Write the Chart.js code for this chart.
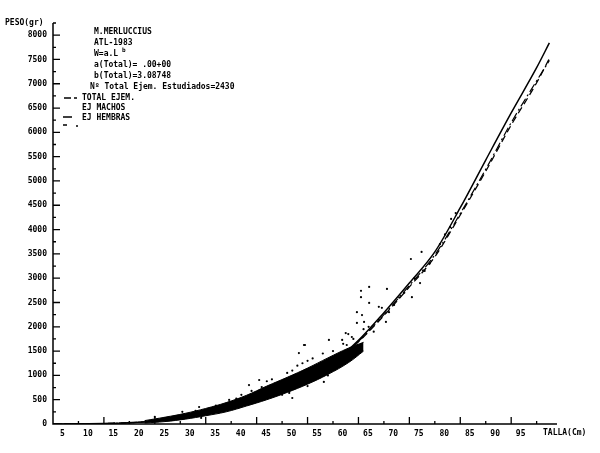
<!DOCTYPE html>
<html>
<head>
<meta charset="utf-8">
<script src="https://cdn.jsdelivr.net/npm/chart.js@4.4.0/dist/chart.umd.min.js"></script>
<style>
html, body { margin: 0; background: #fff; }
#wrap { width: 600px; height: 453px; }
</style>
</head>
<body>
<div id="wrap"><canvas id="grafico"></canvas></div>
<script>
// tallas (cm) y pesos (gr)
var tallas = [0, 10, 20, 30, 40, 45, 50, 55, 60, 65, 70, 75, 80, 85, 90, 95, 97.5];
var pesoHembras = [0, 8, 62, 215, 470, 680, 930, 1260, 1720, 2290, 2900, 3540, 4450, 5430, 6400, 7330, 7840];
var pesoMachos = [0, 8, 60, 212, 465, 670, 920, 1240, 1690, 2230, 2820, 3440, 4300, 5200, 6150, 7020, 7520];
var pesoTotal = [0, 8, 61, 213, 467, 675, 925, 1250, 1700, 2250, 2850, 3480, 4330, 5240, 6200, 7060, 7480];

// nube densa de ejemplares (limites inferior y superior)
var bandaTalla = [18, 22, 26, 30, 34, 38, 42, 46, 50, 54, 58, 61];
var bandaMin = [20, 50, 100, 170, 250, 370, 500, 650, 820, 1020, 1260, 1500];
var bandaMax = [70, 140, 220, 320, 440, 590, 780, 960, 1150, 1360, 1560, 1680];

// ejemplares sueltos
var puntosTalla = [12, 15, 20, 22, 24, 25.4, 26, 28, 28.7, 29.1, 32, 33, 34.6, 35, 36, 37, 38.5, 39, 40.5, 41, 42, 43, 44, 44.4, 45, 46, 46.4, 47, 47, 48, 48.3, 49, 49.3, 49.5, 50, 50, 51, 52, 53, 53.2, 54, 54.2, 55, 55.6, 56, 56.8, 57, 57.5, 57.7, 58, 58.7, 59, 59.7, 59.7, 60, 60.5, 60.5, 60.7, 61, 61.1, 62, 62.1, 62.1, 63, 64, 64, 64.6, 65.4, 65.6, 66, 67, 68, 69, 70.3, 70.5, 71, 72.1, 72.4, 73, 74, 76, 77, 78, 78.2, 79.1];
var puntosPeso = [15, 30, 145, 120, 160, 250, 190, 270, 350, 125, 380, 300, 495, 320, 520, 600, 800, 680, 905, 760, 880, 920, 700, 865, 600, 1050, 640, 535, 1100, 1200, 1460, 1250, 1625, 1625, 1300, 780, 1350, 1200, 1450, 865, 1000, 1730, 1500, 1360, 1400, 1730, 1650, 1870, 1625, 1850, 1790, 1750, 2080, 2300, 1500, 2740, 2610, 2240, 1950, 2100, 2000, 2820, 2490, 1900, 2150, 2410, 2390, 2100, 2780, 2300, 2450, 2600, 2700, 3395, 2610, 3000, 2900, 3540, 3150, 3300, 3700, 3900, 4050, 4220, 4340];

var etiquetasX = [5, 10, 15, 20, 25, 30, 35, 40, 45, 50, 55, 60, 65, 70, 75, 80, 85, 90, 95];
var etiquetasY = [0, 500, 1000, 1500, 2000, 2500, 3000, 3500, 4000, 4500, 5000, 5500, 6000, 6500, 7000, 7500, 8000];

var textoInfo = ['M.MERLUCCIUS', 'ATL-1983', 'W=a.L', 'a(Total)= .00+00', 'b(Total)=3.08748', 'N\u00ba Total Ejem. Estudiados=2430'];
var leyenda = ['TOTAL EJEM.', 'EJ MACHOS', 'EJ HEMBRAS'];

var fuente = 'bold 8px "DejaVu Sans Mono"';

function pares(xs, ys) {
    return xs.map(function(x, i) { return {x: x, y: ys[i]}; });
}

var ejes = {
    id: 'ejes',
    afterDatasetsDraw: function(chart) {
        var ctx = chart.ctx;
        var sx = chart.scales.x, sy = chart.scales.y;
        var x0 = sx.getPixelForValue(0), y0 = sy.getPixelForValue(0);
        ctx.save();
        ctx.strokeStyle = '#000';
        ctx.lineWidth = 1.5;
        ctx.setLineDash([]);
        ctx.beginPath();
        ctx.moveTo(x0, sy.getPixelForValue(8250));
        ctx.lineTo(x0, y0);
        ctx.lineTo(sx.getPixelForValue(99), y0);
        ctx.stroke();
        ctx.lineWidth = 1.3;
        ctx.beginPath();
        for (var v = 5; v <= 95; v += 5) {
            var px = sx.getPixelForValue(v);
            ctx.moveTo(px, y0);
            ctx.lineTo(px, y0 - (v % 10 === 0 ? 7 : 3));
        }
        for (var w = 250; w <= 8250; w += 250) {
            var py = sy.getPixelForValue(w);
            ctx.moveTo(x0, py);
            ctx.lineTo(x0 + (w % 500 === 0 ? 7 : 3), py);
        }
        ctx.stroke();

        ctx.fillStyle = '#000';
        ctx.font = fuente;
        ctx.textBaseline = 'middle';
        ctx.textAlign = 'left';
        ctx.fillText('PESO(gr)', 5, 23);
        ctx.fillText('TALLA(Cm)', 543, 433);

        var filas = [32, 43, 54, 65, 76, 87];
        textoInfo.forEach(function(t, i) {
            ctx.fillText(t, i === 5 ? 90 : 94, filas[i]);
        });
        ctx.font = 'bold 6px "DejaVu Sans Mono"';
        ctx.fillText('b', 122, 50);
        ctx.font = fuente;

        var filasLey = [98, 108, 118];
        leyenda.forEach(function(t, i) {
            ctx.fillText(t, 82, filasLey[i]);
        });
        ctx.lineWidth = 1.3;
        ctx.beginPath();
        ctx.moveTo(64, 98); ctx.lineTo(71, 98);
        ctx.moveTo(74, 98); ctx.lineTo(77, 98);
        ctx.moveTo(63, 117); ctx.lineTo(72, 117);
        ctx.moveTo(63, 125); ctx.lineTo(67, 125);
        ctx.moveTo(76, 126); ctx.lineTo(78, 126);
        ctx.stroke();
        ctx.restore();
    }
};

var grafico = new Chart(document.getElementById('grafico'), {
    type: 'line',
    data: {
        datasets: [{
            label: 'banda max',
            data: pares(bandaTalla, bandaMax),
            borderColor: '#000',
            backgroundColor: '#000',
            borderWidth: 1,
            pointRadius: 0,
            tension: 0.4,
            fill: '+1'
        }, {
            label: 'banda min',
            data: pares(bandaTalla, bandaMin),
            borderColor: '#000',
            borderWidth: 1,
            pointRadius: 0,
            tension: 0.4,
            fill: false
        }, {
            label: 'ejemplares',
            data: pares(puntosTalla, puntosPeso),
            showLine: false,
            pointRadius: 1.1,
            pointBorderWidth: 0,
            pointBackgroundColor: '#000',
            fill: false
        }, {
            label: 'EJ HEMBRAS',
            data: pares(tallas, pesoHembras),
            borderColor: '#000',
            borderWidth: 1.5,
            pointRadius: 0,
            cubicInterpolationMode: 'monotone',
            fill: false
        }, {
            label: 'EJ MACHOS',
            data: pares(tallas, pesoMachos),
            borderColor: '#000',
            borderWidth: 1.3,
            borderDash: [7, 4],
            pointRadius: 0,
            cubicInterpolationMode: 'monotone',
            fill: false
        }, {
            label: 'TOTAL EJEM.',
            data: pares(tallas, pesoTotal),
            borderColor: '#000',
            borderWidth: 1.2,
            borderDash: [9, 3, 2, 3],
            pointRadius: 0,
            cubicInterpolationMode: 'monotone',
            fill: false
        }]
    },
    options: {
        responsive: true,
        maintainAspectRatio: false,
        animation: false,
        layout: { padding: { top: 23, right: 43, left: 0, bottom: 0 } },
        plugins: {
            legend: { display: false },
            tooltip: { enabled: false }
        },
        scales: {
            x: {
                type: 'linear',
                min: 0,
                max: 99,
                grid: { display: false, drawTicks: false },
                border: { display: false },
                afterFit: function(scale) { scale.height = 29; },
                afterBuildTicks: function(scale) {
                    scale.ticks = etiquetasX.map(function(v) { return {value: v}; });
                },
                ticks: {
                    color: '#000',
                    font: { family: 'DejaVu Sans Mono', size: 8, weight: 'bold' },
                    padding: 5,
                    labelOffset: -16,
                    maxRotation: 0,
                    autoSkip: false,
                    callback: function(v) { return String(v); }
                }
            },
            y: {
                min: 0,
                max: 8250,
                grid: { display: false, drawTicks: false },
                border: { display: false },
                afterFit: function(scale) { scale.width = 53; },
                afterBuildTicks: function(scale) {
                    scale.ticks = etiquetasY.map(function(v) { return {value: v}; });
                },
                ticks: {
                    color: '#000',
                    font: { family: 'DejaVu Sans Mono', size: 8, weight: 'bold' },
                    padding: 6,
                    autoSkip: false,
                    callback: function(v) { return String(v); }
                }
            }
        }
    },
    plugins: [ejes]
});
</script>
</body>
</html>
